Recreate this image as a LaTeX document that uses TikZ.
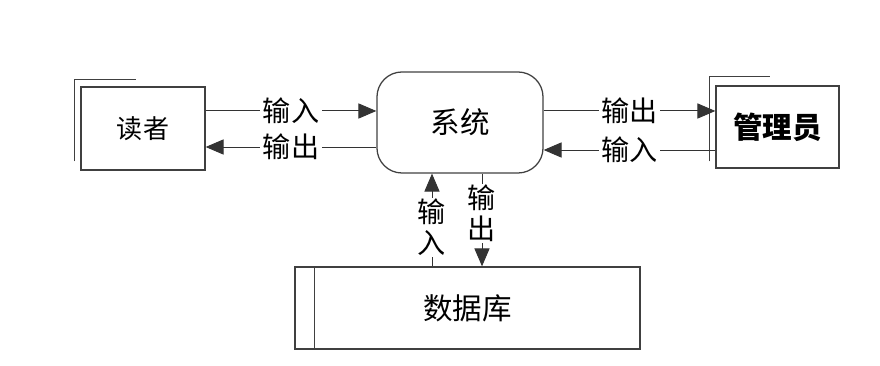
\documentclass[tikz,border=0pt]{standalone}
\usepackage{fontspec}
\newfontfamily\cjk{Noto Sans CJK SC}
\usetikzlibrary{arrows.meta}

\begin{document}
\begin{tikzpicture}[x=0.025cm,y=0.025cm,
  box/.style={draw=black!75, line width=0.9pt, inner sep=0pt},
  flow/.style={draw=black!80, line width=0.7pt, -{Triangle[length=0.45cm,width=0.38cm]}},
  lbl/.style={fill=white, inner xsep=2pt, inner ysep=0pt, font=\cjk\fontsize{20}{20}\selectfont},
  vlbl/.style={lbl, align=center, inner xsep=0pt, inner ysep=1pt,
               font=\cjk\fontsize{20}{22}\selectfont}]

  \useasboundingbox (0,0) rectangle (880,366);

  % External entities
  \node[box, minimum width=3.1cm, minimum height=2.075cm,
        font=\cjk\fontsize{18.5}{18.5}\selectfont] (reader) at (143,237.5) {读者};
  \draw[black!75, line width=0.8pt] (reader.north west) ++(-6,7) coordinate (rc)
    ++(0,-82) -- (rc) -- ++(62,0);

  \node[box, minimum width=3.075cm, minimum height=2.05cm,
        font=\cjk\bfseries\fontsize{21}{21}\selectfont] (admin) at (777.5,239) {管理员};
  \draw[black!75, line width=0.8pt] (admin.north west) ++(-6,9) coordinate (ac)
    ++(0,-85) -- (ac) -- ++(61,0);

  % Process
  \node[box, rounded corners=0.625cm, minimum width=4.15cm, minimum height=2.525cm,
        font=\cjk\fontsize{21}{21}\selectfont] (sys) at (460,243.5) {系统};

  % Data store
  \node[box, minimum width=8.625cm, minimum height=2.05cm,
        font=\cjk\fontsize{21}{21}\selectfont] (db) at (467.5,58) {数据库};
  \draw[black!75, line width=0.9pt] ([xshift=0.5cm]db.north west) -- ([xshift=0.5cm]db.south west);

  % Flows reader <-> system
  \draw[flow] ([yshift=0.4375cm]reader.east) coordinate (r1) -- (r1 -| sys.west)
    node[lbl, midway] {输入};
  \draw[flow] ([yshift=-0.6125cm]sys.west) coordinate (r2) -- (r2 -| reader.east)
    node[lbl, midway] {输出};

  % Flows system <-> admin
  \draw[flow] ([yshift=0.2875cm]sys.east) coordinate (a1) -- (a1 -| admin.west)
    node[lbl, midway] {输出};
  \draw[flow] ([yshift=-0.575cm]admin.west) coordinate (a2) -- (a2 -| sys.east)
    node[lbl, midway] {输入};

  % Flows system <-> database
  \coordinate (d1) at ([xshift=-0.7cm]sys.south);
  \coordinate (d2) at ([xshift=0.55cm]sys.south);
  \draw[flow] (d1 |- db.north) -- (d1) node[vlbl, pos=0.42] {输\\入};
  \draw[flow] (d2) -- (d2 |- db.north) node[vlbl, pos=0.43] {输\\出};

\end{tikzpicture}
\end{document}
